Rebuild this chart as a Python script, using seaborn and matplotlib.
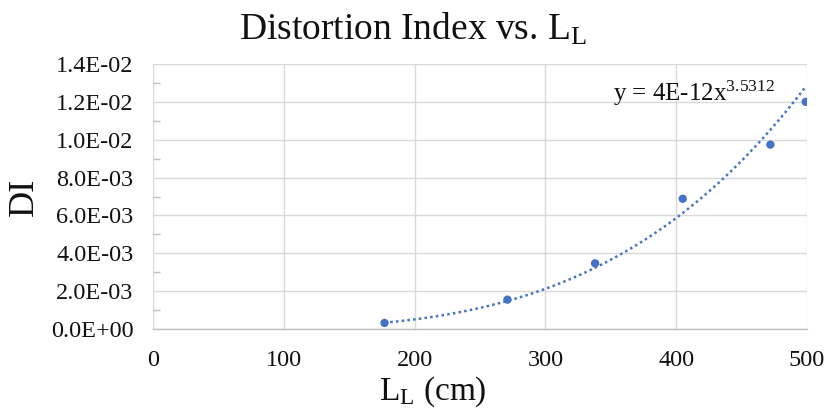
import numpy as np
import pandas as pd
import matplotlib
matplotlib.use("Agg")
import matplotlib.pyplot as plt
from matplotlib.ticker import MultipleLocator, FuncFormatter
import seaborn as sns

# Measured distortion index against length L_L
length_cm = [177, 271, 338, 405, 472, 499]
distortion_index = [0.00032, 0.00155, 0.00347, 0.00688, 0.00974, 0.01200]

# Power-law trendline y = a * x^b
trend_a = 3.8e-12
trend_b = 3.5312

x_ticks = [0, 100, 200, 300, 400, 500]
y_ticks = [0.0, 0.002, 0.004, 0.006, 0.008, 0.010, 0.012, 0.014]

sns.set_theme(style="white")
plt.rcParams["font.family"] = ["Liberation Serif", "DejaVu Serif"]
plt.rcParams["mathtext.fontset"] = "custom"
plt.rcParams["mathtext.rm"] = "Liberation Serif"
plt.rcParams["mathtext.it"] = "Liberation Serif"

blue = "#4472C4"
grid_c = "#d9d9d9"
tick_c = "#bfbfbf"
text_c = "#111111"

fig = plt.figure(figsize=(8.25, 4.13), dpi=100)
ax = fig.add_axes([153 / 825, 1 - 329 / 413, 654 / 825, 265 / 413])

df = pd.DataFrame({"L": length_cm, "DI": distortion_index})

xs = np.linspace(min(length_cm), max(length_cm), 300)
trend = pd.DataFrame({"L": xs, "DI": trend_a * xs ** trend_b})
sns.lineplot(data=trend, x="L", y="DI", ax=ax, color=blue, linestyle=(0, (1, 1.3)),
             linewidth=1.8, zorder=3)
sns.scatterplot(data=df, x="L", y="DI", ax=ax, color=blue, s=36, edgecolor="none",
                zorder=4)

ax.set_xlim(0, 500)
ax.set_ylim(0, 0.014)
ax.set_xticks(x_ticks)
ax.set_yticks(y_ticks)
ax.xaxis.set_minor_locator(MultipleLocator(20))
ax.yaxis.set_minor_locator(MultipleLocator(0.001))
ax.yaxis.set_major_formatter(FuncFormatter(lambda v, p: f"{v:.1E}"))

ax.grid(True, which="major", color=grid_c, linewidth=1.0)
ax.set_axisbelow(True)
for s in ["top", "right", "left"]:
    ax.spines[s].set_visible(False)
ax.spines["bottom"].set_color(tick_c)
ax.spines["bottom"].set_linewidth(1.0)

ax.tick_params(axis="x", which="both", direction="out", length=5, width=1,
               color=tick_c, labelsize=17.5, pad=10, labelcolor=text_c)
ax.tick_params(axis="y", which="major", length=0, labelsize=17.5, pad=14,
               labelcolor=text_c)
ax.tick_params(axis="y", which="minor", direction="in", length=5, width=1,
               color=tick_c, left=True)

ax.set_xlabel(r"L$_{\mathregular{L}}$ (cm)", fontsize=24, color=text_c)
ax.xaxis.set_label_coords((433 - 153) / 654, -0.17)
ax.set_ylabel("DI", fontsize=26, color=text_c)
ax.yaxis.set_label_coords(-0.172, 0.5)

fig.text(0.5, 1 - 29 / 413, r"Distortion Index vs. L$_{\mathregular{L}}$",
         ha="center", va="center", fontsize=27, color=text_c)

eq_label = "y = " + f"{trend_a:.0E}" + r"x$^{\mathregular{" + f"{trend_b}" + "}}$"
ax.text(352, 0.01245, eq_label, fontsize=18, color=text_c, va="center", ha="left")

fig.savefig("out.png", dpi=100, facecolor="white")
